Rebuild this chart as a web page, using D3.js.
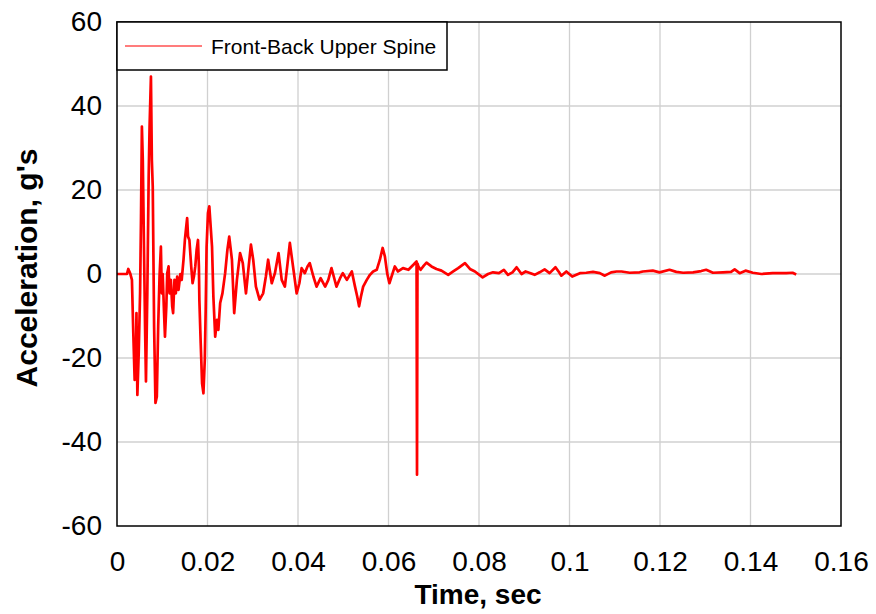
<!DOCTYPE html>
<html><head><meta charset="utf-8">
<script src="https://cdn.jsdelivr.net/npm/d3@7/dist/d3.min.js"></script>
<style>body{margin:0;background:#fff}svg{display:block}</style>
</head><body>
<svg id="chart" width="876" height="614"></svg>
<script>
// ---- data ----
const timeSec = [0,0.0022,0.0025,0.0029,0.0033,0.0036,0.0039,0.0042,0.0043,0.0045,0.0048,0.0051,0.0053,0.0055,0.0057,0.0059,0.0062,0.0064,0.0067,0.0070,0.0072,0.0075,0.0077,0.0079,0.0082,0.0085,0.0088,0.0091,0.0094,0.0097,0.0099,0.0101,0.0104,0.0106,0.0109,0.0111,0.0114,0.0116,0.0119,0.0122,0.0124,0.0127,0.0130,0.0133,0.0136,0.0140,0.0143,0.0147,0.0150,0.0153,0.0155,0.0157,0.0160,0.0164,0.0167,0.0170,0.0173,0.0176,0.0179,0.0181,0.0182,0.0185,0.0188,0.0191,0.0194,0.0196,0.0198,0.0201,0.0204,0.0210,0.0213,0.0217,0.0221,0.0224,0.0228,0.0233,0.0239,0.0244,0.0248,0.0254,0.0259,0.0265,0.0272,0.0278,0.0285,0.0291,0.0296,0.0301,0.0307,0.0315,0.0323,0.0329,0.0334,0.0342,0.0349,0.0357,0.0364,0.0371,0.0377,0.0382,0.0390,0.0397,0.0403,0.0408,0.0415,0.0421,0.0426,0.0434,0.0441,0.0450,0.0460,0.0467,0.0474,0.0479,0.0485,0.0493,0.0499,0.0508,0.0519,0.0526,0.0531,0.0535,0.0539,0.0544,0.0552,0.0559,0.0566,0.0574,0.0581,0.0587,0.0592,0.0597,0.0602,0.0614,0.0621,0.0632,0.0644,0.0655,0.0662,0.0663,0.0664,0.0666,0.0671,0.0678,0.0684,0.0695,0.0706,0.0717,0.0732,0.0743,0.0754,0.0769,0.0780,0.0791,0.0808,0.0820,0.0831,0.0844,0.0855,0.0864,0.0874,0.0883,0.0894,0.0903,0.0914,0.0923,0.0934,0.0945,0.0956,0.0969,0.0977,0.0982,0.0993,0.1006,0.1023,0.1037,0.1052,0.1067,0.1078,0.1092,0.1104,0.1115,0.1133,0.1155,0.1162,0.1184,0.1199,0.1221,0.1236,0.1251,0.1273,0.1291,0.1302,0.1317,0.1339,0.1357,0.1365,0.1376,0.1389,0.1405,0.1424,0.1449,0.1479,0.1493,0.1501];
const accelG = [0,0,1.2,0.2,-1.4,-14,-25.2,-18,-9.3,-28.8,-18.8,-4.6,12.9,35.1,27.2,11.3,-12.5,-25.6,-4.6,23.2,35.1,47,27.2,20.8,-12.5,-30.7,-29.2,-12.5,-0.6,6.5,-4.6,0,-9.3,-14.9,-7.7,0.2,1.8,-4.6,-1.4,-7.7,-9.3,-1.4,-4.6,-0.6,-3.8,0,-1.4,3.4,8.1,11.3,13.3,8.9,8.1,1.8,-2.2,-0.6,1.8,5.8,8.1,1.8,-6.1,-16.5,-26,-28.4,-20.4,-8.5,6.5,14.5,16.1,6.5,-5.4,-14.9,-10.9,-13.3,-6.9,-4.6,0.2,5.8,8.9,3.4,-9.3,-1.4,5,2.6,-4.6,1.8,7,3.4,-3,-6.1,-4.6,-0.6,3.4,-2.2,0.2,5,-1.4,-3,2.6,7.4,1,-4.6,-2.2,1.4,0.2,1.8,2.6,-0.6,-3,-1,-3,-1.4,1.4,-0.6,-3,-1,0.2,-1.4,0.6,-3,-5.4,-7.7,-5.4,-3,-1.4,-0.2,0.6,1,3.4,6.2,4.2,0.2,-2.2,1.8,0.6,1.4,1,2.2,3,-47.8,2.5,1.8,1,2,2.7,1.8,1.2,0.8,-0.2,0.6,1.4,2.6,1.2,0.6,-0.8,0,0.4,0.2,1,-0.2,0.4,1.6,0,0.6,0.2,-0.2,0.4,1.1,0.2,1.6,0.4,-0.4,0.6,-0.6,0.2,0.3,0.5,0.2,-0.4,0.4,0.6,0.6,0.3,0.4,0.6,0.8,0.4,1,0.5,0.3,0.4,0.7,1,0.3,0.4,0.5,1.1,0.2,0.8,0.3,0,0.2,0.2,0.3,-0.1];
const xTicks = [0,0.02,0.04,0.06,0.08,0.1,0.12,0.14,0.16];
const yTicks = [-60,-40,-20,0,20,40,60];
const seriesName = "Front-Back Upper Spine";
const xTitle = "Time, sec";
const yTitle = "Acceleration, g's";

// ---- layout ----
const L = 117, R = 841, T = 22, B = 526;
const font = "'Liberation Sans', Arial, sans-serif";
const svg = d3.select("#chart");
const x = d3.scaleLinear().domain([0, 0.16]).range([L, R]);
const y = d3.scaleLinear().domain([-60, 60]).range([B, T]);

// grid
const grid = svg.append("g");
grid.selectAll(".vg").data(xTicks.slice(1, -1)).enter().append("line")
  .attr("x1", d => x(d)).attr("x2", d => x(d)).attr("y1", T).attr("y2", B)
  .attr("stroke", "#d0d0d0").attr("stroke-width", 1.3);
grid.selectAll(".hg").data(yTicks.slice(1, -1)).enter().append("line")
  .attr("y1", d => y(d)).attr("y2", d => y(d)).attr("x1", L).attr("x2", R)
  .attr("stroke", "#d0d0d0").attr("stroke-width", 1.3);

// series
const pts = timeSec.map((t, i) => [t, accelG[i]]);
svg.append("path").datum(pts)
  .attr("d", d3.line().x(d => x(d[0])).y(d => y(d[1])))
  .attr("fill", "none").attr("stroke", "#ff0000").attr("stroke-width", 2.7)
  .attr("stroke-linejoin", "round");

// frame
svg.append("rect").attr("x", L).attr("y", T).attr("width", R - L).attr("height", B - T)
  .attr("fill", "none").attr("stroke", "#000").attr("stroke-width", 1.5);

// axes (labels only)
const fmt = d => String(+d.toFixed(2));
const xa = svg.append("g").attr("transform", `translate(0,${B})`)
  .call(d3.axisBottom(x).tickValues(xTicks).tickFormat(fmt).tickSize(0).tickPadding(25));
const ya = svg.append("g").attr("transform", `translate(${L},0)`)
  .call(d3.axisLeft(y).tickValues(yTicks).tickFormat(fmt).tickSize(0).tickPadding(15));
[xa, ya].forEach(a => {
  a.select(".domain").remove();
  a.selectAll("text").attr("font-family", font).attr("font-size", 28).attr("fill", "#000");
});

// titles
svg.append("text").attr("x", 478).attr("y", 604).attr("text-anchor", "middle")
  .attr("font-family", font).attr("font-weight", "bold").attr("font-size", 28).text(xTitle);
svg.append("text").attr("transform", "translate(37,268) rotate(-90)").attr("text-anchor", "middle")
  .attr("font-family", font).attr("font-weight", "bold").attr("font-size", 30).text(yTitle);

// legend
const lg = svg.append("g");
lg.append("rect").attr("x", L).attr("y", T).attr("width", 330).attr("height", 48)
  .attr("fill", "#fff").attr("stroke", "#000").attr("stroke-width", 1.5);
lg.append("line").attr("x1", 125).attr("x2", 202).attr("y1", 46).attr("y2", 46)
  .attr("stroke", "#ff5050").attr("stroke-width", 1.5);
lg.append("text").attr("x", 211).attr("y", 54).attr("font-family", font).attr("font-size", 21)
  .attr("fill", "#000").text(seriesName);
</script>
</body></html>
